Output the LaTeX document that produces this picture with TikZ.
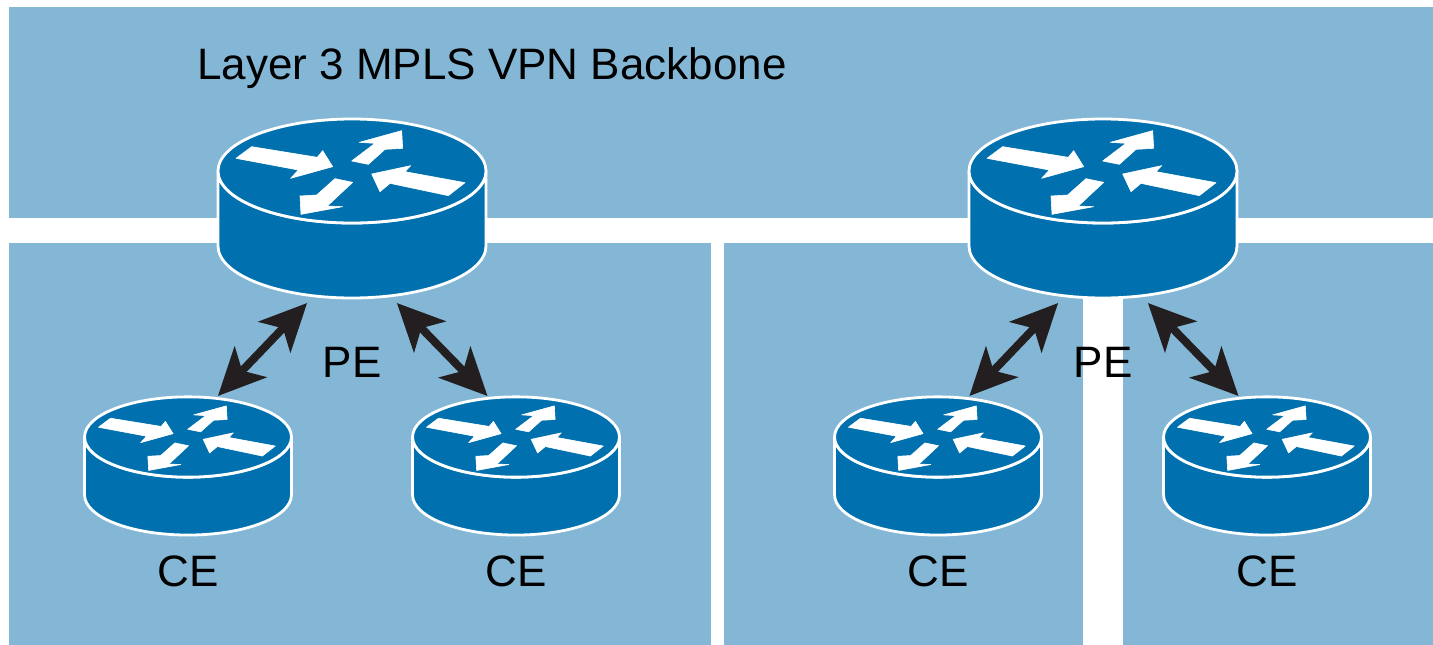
\documentclass[tikz,border=0pt]{standalone}
\usepackage{fontspec}
\setmainfont{Liberation Sans}
\usetikzlibrary{arrows.meta}
\definecolor{panelblue}{HTML}{84B7D6}
\definecolor{routerblue}{HTML}{0071AE}
\definecolor{linkblack}{HTML}{231F20}
\tikzset{
  panel/.style={fill=panelblue,draw=none},
  routerbody/.style={fill=routerblue,draw=white,line width=2.8pt,line join=round},
  routerarrow/.style={fill=white,draw=white,line width=0.6pt,line join=round},
  pebox/.style={rectangle,draw=none,inner sep=0pt,outer sep=0pt,minimum width=268pt,minimum height=184pt},
  cebox/.style={rectangle,draw=none,inner sep=0pt,outer sep=0pt,minimum width=207pt,minimum height=141pt},
  label/.style={inner sep=0pt,font=\fontsize{44pt}{46pt}\selectfont,text=black},
  link/.style={linkblack,line width=8pt,{Stealth[length=47pt,width=44pt,inset=12pt]}-{Stealth[length=47pt,width=44pt,inset=12pt]}}
}
% #1 x of centre, #2 y of centre of top face, #3 scale
\newcommand{\routericon}[3]{%
  \begin{scope}[shift={(#1,#2)},scale=#3/3]
    \path[routerbody] (-402,0) -- (-402,225) arc (180:0:402 and 156) -- (402,0) arc (0:180:402 and 156) -- cycle;
    \path[routerbody] (0,0) ellipse (402 and 156);
    \path[routerarrow] (-348,-38) -- (-301,-73) -- (-104,-41) -- (-88,-61) -- (-58,-13) -- (-184,22) -- (-161,-3) -- cycle;
    \path[routerarrow] (-1,-30) -- (49,-20) -- (99,-65) -- (152,-68) -- (149,-121) -- (22,-86) -- (69,-83) -- cycle;
    \path[routerarrow] (339,35) -- (289,74) -- (114,37) -- (84,62) -- (59,9) -- (176,-16) -- (159,2) -- cycle;
    \path[routerarrow] (2,34) -- (-51,23) -- (-106,72) -- (-156,75) -- (-153,130) -- (-28,107) -- (-74,105) -- cycle;
  \end{scope}}
\begin{document}
\begin{tikzpicture}[x=1pt,y=-1pt]
  \useasboundingbox (0,0) rectangle (1433,645);
  \fill[white] (0,0) rectangle (1433,645);
  \path[panel] (9,7) rectangle (1433,218);
  \path[panel] (9,243) rectangle (711,645);
  \path[panel] (724,243) rectangle (1083,645);
  \path[panel] (1123,243) rectangle (1433,645);

  \routericon{352}{171}{1}
  \routericon{1103}{171}{1}
  \routericon{188}{437}{0.772}
  \routericon{516}{437}{0.772}
  \routericon{938}{437}{0.772}
  \routericon{1267}{437}{0.772}

  \node[pebox] (pe1) at (352,211) {};
  \node[pebox] (pe2) at (1103,211) {};
  \node[cebox] (ce1) at (188,466.5) {};
  \node[cebox] (ce2) at (516,466.5) {};
  \node[cebox] (ce3) at (938,466.5) {};
  \node[cebox] (ce4) at (1267,466.5) {};

  \draw[link] (pe1.-116) -- (ce1.67);
  \draw[link] (pe1.-64) -- (ce2.112.4);
  \draw[link] (pe2.-116) -- (ce3.66);
  \draw[link] (pe2.-64) -- (ce4.112.4);

  \node[label,anchor=base west] (title) at (197,79.5) {Layer 3 MPLS VPN Backbone};
  \node[label] (pe1label) at (352,362) {PE};
  \node[label] (pe2label) at (1103,362) {PE};
  \node[label] (ce1label) at (188,571) {CE};
  \node[label] (ce2label) at (516,571) {CE};
  \node[label] (ce3label) at (938,571) {CE};
  \node[label] (ce4label) at (1267,571) {CE};
\end{tikzpicture}
\end{document}
